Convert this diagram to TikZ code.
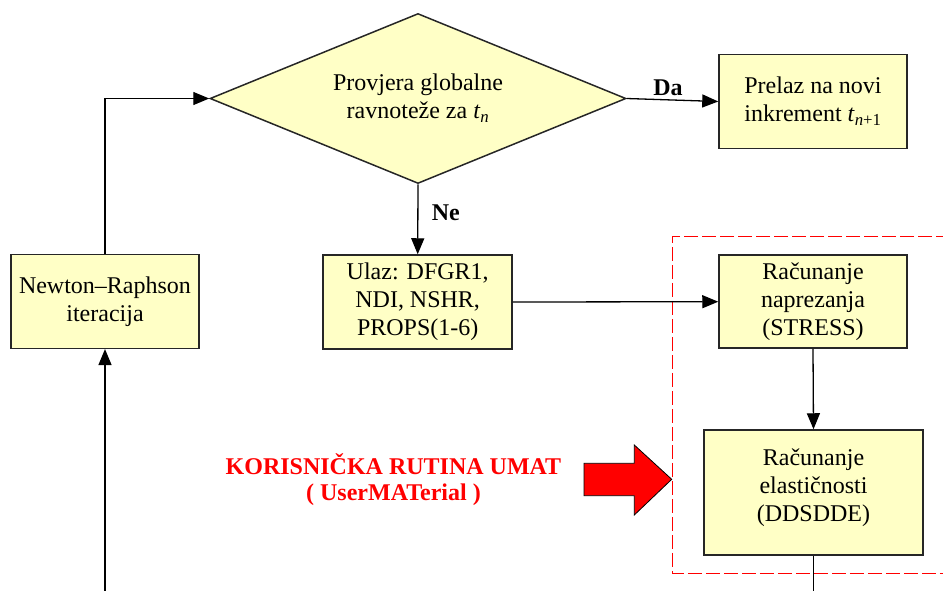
\documentclass[tikz,border=0pt]{standalone}
\usepackage{fontspec}
\setmainfont{Liberation Serif}
\usetikzlibrary{shapes.geometric,arrows.meta}
\definecolor{boxfill}{RGB}{255,255,198}
\tikzset{
  stepbox/.style={draw=black!85, line width=1.5pt, fill=boxfill, align=center, inner sep=0pt,
    font=\fontsize{24}{28}\selectfont},
  conn/.style={line width=1.3pt, -{Triangle[length=16pt,width=13pt]}},
  plain/.style={line width=1.3pt},
  lbl/.style={font=\fontsize{24}{28}\selectfont\bfseries},
  redlbl/.style={font=\fontsize{24}{26}\selectfont\bfseries, text=red, align=center},
}
\newcommand{\tsub}[1]{\textit{t}\textsubscript{#1}}
\begin{document}
\begin{tikzpicture}[x=1pt,y=-1pt]
\useasboundingbox (0,0) rectangle (943,590);
% decision
\node[stepbox, diamond, aspect=2.45, minimum width=416pt, minimum height=170pt] (dec) at (418,98.5)
  {Provjera globalne\\ravnote\v{z}e za \tsub{\textit{n}}};
\node[stepbox, minimum width=188pt, minimum height=94pt] (next) at (813,101.5)
  {Prelaz na novi\\inkrement \tsub{\textit{n}+1}};
\node[stepbox, minimum width=189pt, minimum height=94pt] (in) at (417.7,302)
  {Ulaz: DFGR1,\\NDI, NSHR,\\PROPS(1-6)};
\node[stepbox, minimum width=188pt, minimum height=94pt] (nr) at (105,301.3)
  {Newton--Raphson\\iteracija};
\node[stepbox, minimum width=188pt, minimum height=93pt] (st) at (813,301.7)
  {Ra\v{c}unanje\\naprezanja\\(STRESS)};
\node[stepbox, minimum width=219pt, minimum height=125pt] (dd) at (813.5,492.5)
  {Ra\v{c}unanje\\elasti\v{c}nosti\\(DDSDDE)\\[-14pt]\mbox{}};
% dashed region
\draw[red, line width=1.2pt, dash pattern=on 14pt off 4pt] (950,236.5) -- (672.3,236.5) -- (672.3,573.3) -- (950,573.3);
% red arrow
\draw[fill=red, draw=black, line width=0.8pt]
  (584,463.3) -- (634.3,463.3) -- (634.3,445) -- (671.7,479.3) -- (634.3,515) -- (634.3,495.7) -- (584,495.7) -- cycle;
\node[redlbl] (ul) at (393.5,480) {KORISNI\v{C}KA RUTINA UMAT\\( UserMATerial )};
% connectors
\coordinate (b1) at (105,592);
\coordinate (b2) at (813.5,592);
\draw[conn] (dec.east) -- node[lbl, above, pos=0.45] {Da} (next.west);
\draw[conn] (dec.south) -- node[lbl, right, xshift=10pt, pos=0.4] {Ne} (in.north);
\draw[conn] (in.east) -- (st.west);
\draw[conn] (st.south) -- (dd.north);
\draw[conn] (nr.north) |- (dec.west);
\draw[conn] (b1) -- (nr.south);
\draw[plain] (dd.south) -- (b2);
\end{tikzpicture}
\end{document}
